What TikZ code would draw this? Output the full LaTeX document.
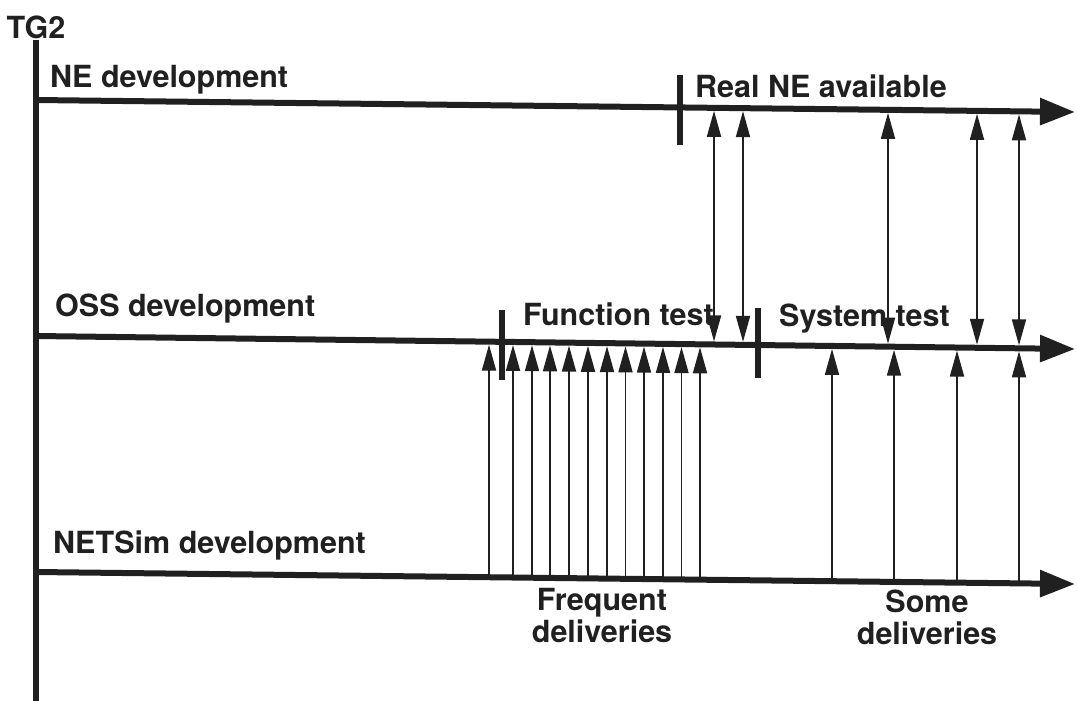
\documentclass[tikz,border=0pt]{standalone}
\usepackage{fontspec}
\setmainfont{TeX Gyre Heros}
\usetikzlibrary{arrows.meta,calc}
\definecolor{ink}{RGB}{32,32,32}
\begin{document}
\begin{tikzpicture}[x=1pt,y=-1pt,
  font=\bfseries\fontsize{30.5}{32}\selectfont,
  lbl/.style={anchor=base west,inner sep=0pt,text=ink},
  note/.style={anchor=north,inner sep=0pt,align=center,text=ink},
  axis/.style={draw=ink,line width=6pt},
  timeline/.style={draw=ink,line width=6pt,-{Triangle[length=35pt,width=26pt]}},
  milestone/.style={draw=ink,line width=6pt},
  deliv/.style={draw=ink,line width=1.8pt,-{Triangle[length=26pt,width=14pt]}},
  exch/.style={draw=ink,line width=1.8pt,{Triangle[length=26pt,width=14pt]}-{Triangle[length=26pt,width=14pt]}}]
\useasboundingbox (0,0) rectangle (1077,701);

% vertical axis
\node[inner sep=0pt,text=ink] (tg) at (36,27) {TG2};
\coordinate (ax0) at (36,40);
\coordinate (ax1) at (36,701);
\draw[axis] (ax0) -- (ax1);

% the three development timelines
\coordinate (ne0) at (36,100);  \coordinate (ne1) at (1075,112);
\coordinate (os0) at (36,336);  \coordinate (os1) at (1075,349);
\coordinate (ns0) at (36,572);  \coordinate (ns1) at (1075,584);
\draw[timeline] (ne0) -- (ne1);
\draw[timeline] (os0) -- (os1);
\draw[timeline] (ns0) -- (ns1);

\node[lbl] (nelbl) at (50,88)  {NE development};
\node[lbl] (oslbl) at (55,316) {OSS development};
\node[lbl] (nslbl) at (53,553) {NETSim development};

% milestones
\coordinate (m1a) at (680,75);  \coordinate (m1b) at (680,145);
\coordinate (m2a) at (502,310); \coordinate (m2b) at (502,380);
\coordinate (m3a) at (758,308); \coordinate (m3b) at (758,378);
\draw[milestone] (m1a) -- (m1b);
\draw[milestone] (m2a) -- (m2b);
\draw[milestone] (m3a) -- (m3b);

\node[lbl] (real) at (695,97)  {Real NE available};
\node[lbl] (ftest) at (523,325) {Function test};
\node[lbl] (stest) at (779,326) {System test};

% deliveries from NETSim to OSS
\foreach \x [count=\i] in {489,513,532,550,569,588,607,625.5,644,663,681.5,700,832,894,957,1019} {
  \pgfmathsetmacro\ya{572+(\x-36)*12/1039}
  \pgfmathsetmacro\yb{336+(\x-36)*13/1039+3}
  \coordinate (d\i s) at (\x,\ya);
  \coordinate (d\i e) at (\x,\yb);
  \draw[deliv] (d\i s) -- (d\i e);
}

% exchanges between real NE and OSS
\foreach \x [count=\i] in {714,743,888,977,1019} {
  \pgfmathsetmacro\ya{100+(\x-36)*12/1039+3}
  \pgfmathsetmacro\yb{336+(\x-36)*13/1039-3}
  \coordinate (x\i a) at (\x,\ya);
  \coordinate (x\i b) at (\x,\yb);
  \draw[exch] (x\i a) -- (x\i b);
}

\node[note] (freq) at (602,588) {Frequent\\deliveries};
\node[note] (some) at (927,590) {Some\\deliveries};
\end{tikzpicture}
\end{document}
